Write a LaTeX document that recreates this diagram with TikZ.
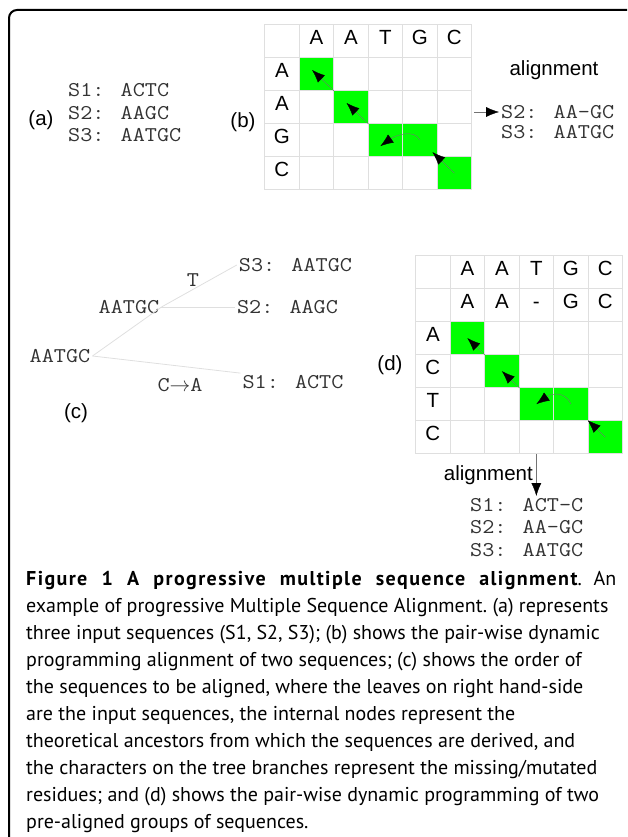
\documentclass[tikz,border=0pt]{standalone}
\usepackage{fontspec}
\setmainfont{PT Sans}
\newfontfamily\arialfont{Liberation Sans}
\newfontfamily\courierfont{Latin Modern Mono}[FakeStretch=1.12]
\usepackage{tikz}
\usetikzlibrary{matrix, arrows.meta, positioning}

\begin{document}
\begin{tikzpicture}[
    x=1pt, y=-1pt,
    cell/.style={draw=gray!25, line width=0.8pt, minimum width=34.5pt, minimum height=33pt, inner sep=0pt, anchor=center, text height=1.5ex, text depth=0.2ex},
    hit/.style={fill=green},
    grid/.style={matrix of nodes, nodes in empty cells, nodes={cell}, column sep=-0.8pt, row sep=-0.8pt, inner sep=0pt, font={\arialfont\fontsize{20.5}{20.5}\selectfont}},
    seq/.style={font={\courierfont\fontsize{21}{22.5}\selectfont}, text=black!80, align=left, inner sep=2pt},
    lbl/.style={font={\arialfont\fontsize{20.5}{24}\selectfont}, inner sep=0pt},
    trace/.style={-{Latex[length=13pt, width=10pt, color=black]}, line width=0.4pt, black!55},
    branch/.style={line width=0.8pt, gray!25}
]
\useasboundingbox (0,0) rectangle (627,837);

% Frame
\draw[line width=2pt, rounded corners=8pt] (627,10) -- (9,10) -- (9,837);

% (a) input sequences
\node[lbl] (alab) at (41,120) {(a)};
\node[seq, anchor=west] (aseq) at (66,113) {S1: ACTC\\S2: AAGC\\S3: AATGC};

% (b) pair-wise table
\node[lbl] (blab) at (243,122) {(b)};
\matrix[grid, anchor=north west] (b) at (264,24) {
      & A & A & T & G & C \\
    A & |[hit]| & & & & \\
    A & & |[hit]| & & & \\
    G & & & |[hit]| & |[hit]| & \\
    C & & & & & |[hit]| \\
};
\draw[trace, shorten >=-6pt] (b-2-2.south east) -- (b-2-2.center);
\draw[trace, shorten >=-6pt] (b-3-3.south east) -- (b-3-3.center);
\draw[trace] (b-4-5.center) .. controls +(-6,-12) and +(14,-10) .. ([shift={(-5,6)}]b-4-4.center);
\draw[trace, shorten >=-6pt] (b-5-6.center) -- (b-5-6.north west);

% (b) result
\node[lbl] (balign) at (554,70) {alignment};
\coordinate (bout) at (474,112);
\node[seq, anchor=west] (bs2) at (499,112) {S2: AA-GC};
\node[seq, anchor=west] (bs3) at (499,132) {S3: AATGC};
\draw[trace] (bout) -- (bs2);

% (c) guide tree
\node[seq] (root) at (60,356) {AATGC};
\node[seq] (inner) at (129,307) {AATGC};
\node[seq] (c3) at (295.5,265) {S3: AATGC};
\node[seq] (c2) at (287.5,307) {S2: AAGC};
\node[seq] (c1) at (293,382) {S1: ACTC};
\draw[branch] (root.east) -- (inner.east);
\draw[branch] (inner.east) -- (c3.west);
\draw[branch] (inner.east) -- (c2.west);
\draw[branch] (root.east) -- (c1.north west);
\node[seq] (mutt) at (193,280) {T};
\node[seq] (muta) at (180,385) {C${\to}$A};
\node[lbl] (clab) at (76,413) {(c)};

% (d) profile-profile table
\node[lbl] (dlab) at (390,365) {(d)};
\matrix[grid, anchor=north west] (d) at (415,255) {
      & A & A & T & G & C \\
      & A & A & - & G & C \\
    A & |[hit]| & & & & \\
    C & & |[hit]| & & & \\
    T & & & |[hit]| & |[hit]| & \\
    C & & & & & |[hit]| \\
};
\draw[trace] (d-3-2.south east) -- (d-3-2.center);
\draw[trace] (d-4-3.south east) -- (d-4-3.center);
\draw[trace] (d-5-5.center) .. controls +(-6,-14) and +(14,-10) .. (d-5-4.center);
\draw[trace] (d-6-6.center) -- (d-6-6.north west);

% (d) result
\node[seq, anchor=north west] (dres) at (468,496) {S1: ACT-C\\S2: AA-GC\\S3: AATGC};
\draw[trace] (d-6-4.south) -- (d-6-4.south |- dres.north);
\node[lbl, anchor=east] (dalign) at (533,475) {alignment};

% Caption
\node[anchor=north west, align=left, inner sep=0pt, font={\fontsize{20}{27}\selectfont\frenchspacing}] (caption) at (26,571) {%
\makebox[590pt][s]{\textbf{\addfontfeature{LetterSpace=7}Figure 1 A progressive multiple sequence alignment}. An}\\
example of progressive Multiple Sequence Alignment. (a) represents\\
three input sequences (S1, S2, S3); (b) shows the pair-wise dynamic\\
programming alignment of two sequences; (c) shows the order of\\
the sequences to be aligned, where the leaves on right hand-side\\
are the input sequences, the internal nodes represent the\\
theoretical ancestors from which the sequences are derived, and\\
the characters on the tree branches represent the missing/mutated\\
residues; and (d) shows the pair-wise dynamic programming of two\\
pre-aligned groups of sequences.};
\end{tikzpicture}
\end{document}
